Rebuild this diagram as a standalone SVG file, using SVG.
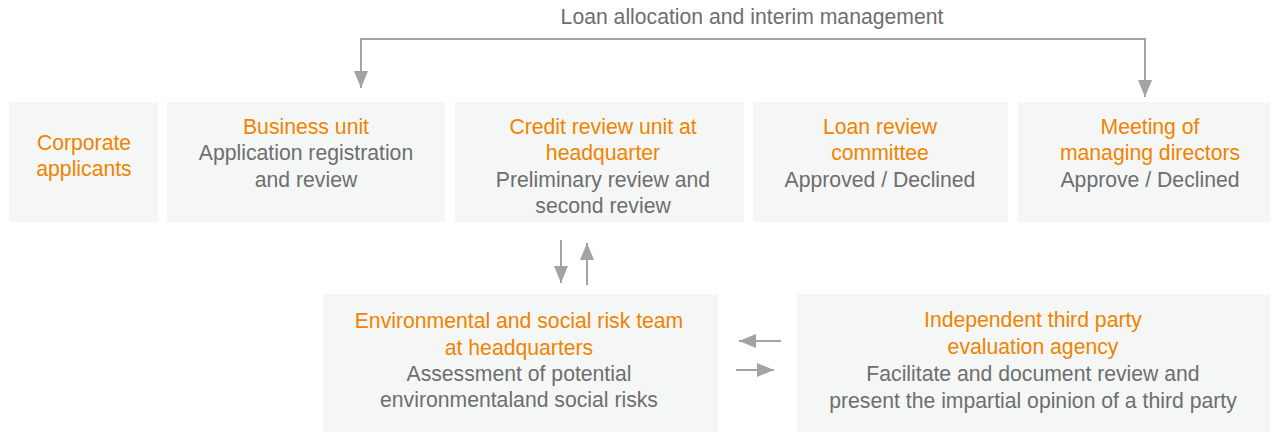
<svg xmlns="http://www.w3.org/2000/svg" width="1274" height="432" viewBox="0 0 1274 432">
  <style>
    .box { fill: #f5f7f6; }
    text { font-family: "Liberation Sans", Arial, Helvetica, sans-serif; font-size: 21.2px; text-anchor: middle; }
    .hd { fill: #f08300; }
    .tx { fill: #6e6e6e; }
    .ln { fill: none; stroke: #a3a3a3; stroke-width: 2; }
  </style>
  <defs>
    <marker id="arrow" markerUnits="userSpaceOnUse" markerWidth="18" markerHeight="14" refX="17" refY="7" orient="auto-start-reverse">
      <path d="M0,0 L17,7 L0,14 Z" fill="#a3a3a3"/>
    </marker>
  </defs>

  <rect width="1274" height="432" fill="#ffffff"/>

  <text class="tx" x="752" y="24">Loan allocation and interim management</text>

  <g id="corporate-applicants">
    <rect class="box" x="9" y="102" width="149" height="120"/>
    <text class="hd" x="84" y="150">Corporate</text>
    <text class="hd" x="84" y="176">applicants</text>
  </g>

  <g id="business-unit">
    <rect class="box" x="167" y="102" width="278" height="120"/>
    <text class="hd" x="306" y="134">Business unit</text>
    <text class="tx" x="306" y="160">Application registration</text>
    <text class="tx" x="306" y="187">and review</text>
  </g>

  <g id="credit-review-unit">
    <rect class="box" x="455" y="102" width="289" height="120"/>
    <text class="hd" x="603" y="134">Credit review unit at</text>
    <text class="hd" x="603" y="160">headquarter</text>
    <text class="tx" x="603" y="187">Preliminary review and</text>
    <text class="tx" x="603" y="213">second review</text>
  </g>

  <g id="loan-review-committee">
    <rect class="box" x="753" y="102" width="255" height="120"/>
    <text class="hd" x="880" y="134">Loan review</text>
    <text class="hd" x="880" y="160">committee</text>
    <text class="tx" x="880" y="187">Approved / Declined</text>
  </g>

  <g id="managing-directors">
    <rect class="box" x="1018" y="102" width="252" height="120"/>
    <text class="hd" x="1150" y="134">Meeting of</text>
    <text class="hd" x="1150" y="160">managing directors</text>
    <text class="tx" x="1150" y="187">Approve / Declined</text>
  </g>

  <g id="es-risk-team">
    <rect class="box" x="323" y="294" width="395" height="138"/>
    <text class="hd" x="519" y="328">Environmental and social risk team</text>
    <text class="hd" x="519" y="355">at headquarters</text>
    <text class="tx" x="519" y="381">Assessment of potential</text>
    <text class="tx" x="519" y="407">environmentaland social risks</text>
  </g>

  <g id="third-party-agency">
    <rect class="box" x="797" y="294" width="473" height="138"/>
    <text class="hd" x="1033" y="327">Independent third party</text>
    <text class="hd" x="1033" y="354">evaluation agency</text>
    <text class="tx" x="1033" y="381">Facilitate and document review and</text>
    <text class="tx" x="1033" y="408">present the impartial opinion of a third party</text>
  </g>

  <g id="connectors">
    <!-- loan allocation loop: business unit and managing directors -->
    <path class="ln" d="M361,88 V39 H1145 V97" marker-start="url(#arrow)" marker-end="url(#arrow)"/>
    <!-- credit review unit <-> E&S risk team -->
    <path class="ln" d="M561,240 V283" marker-end="url(#arrow)"/>
    <path class="ln" d="M587,285 V243" marker-end="url(#arrow)"/>
    <!-- E&S risk team <-> third party agency -->
    <path class="ln" d="M781,341 H739" marker-end="url(#arrow)"/>
    <path class="ln" d="M736,370 H774" marker-end="url(#arrow)"/>
  </g>
</svg>
